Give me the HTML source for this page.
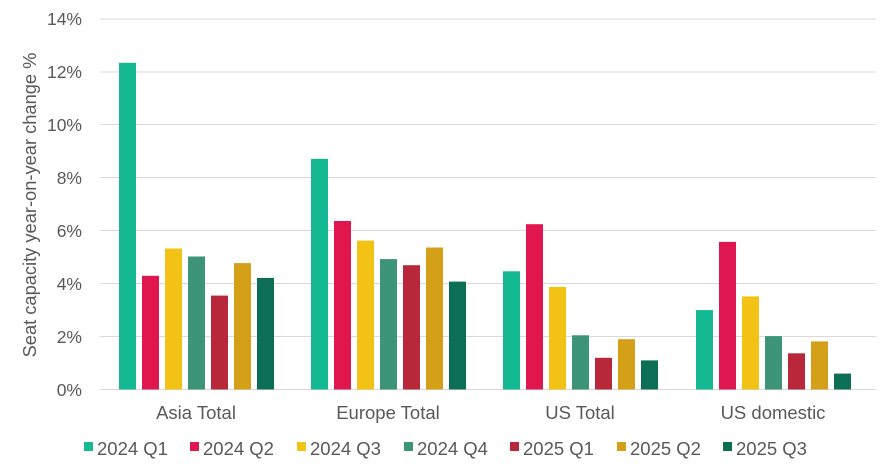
<!DOCTYPE html>
<html><head><meta charset="utf-8"><style>
html,body{margin:0;padding:0;background:#fff}
svg{display:block;font-family:"Liberation Sans",Arial,sans-serif}
</style></head><body>
<svg width="886" height="472" viewBox="0 0 886 472" xmlns="http://www.w3.org/2000/svg">
<g stroke="#d9d9d9" stroke-width="1">
<line x1="100" x2="876" y1="19" y2="19"/><line x1="100" x2="876" y1="72" y2="72"/>
<line x1="100" x2="876" y1="124.5" y2="124.5"/><line x1="100" x2="876" y1="177.5" y2="177.5"/>
<line x1="100" x2="876" y1="230.5" y2="230.5"/><line x1="100" x2="876" y1="283.5" y2="283.5"/>
<line x1="100" x2="876" y1="336.5" y2="336.5"/><line x1="100" x2="876" y1="389.5" y2="389.5"/>
</g>
<g fill="#595959" font-size="17.5" text-anchor="end">
<text x="82" y="25">14%</text><text x="82" y="78">12%</text><text x="82" y="131">10%</text>
<text x="82" y="184">8%</text><text x="82" y="237">6%</text><text x="82" y="290">4%</text>
<text x="82" y="343">2%</text><text x="82" y="396">0%</text>
</g>
<text transform="translate(36,205) rotate(-90)" text-anchor="middle" fill="#595959" font-size="18.3">Seat capacity year-on-year change %</text>
<g>
<rect x="119" y="62.8" width="17" height="326.7" fill="#14b994"/>
<rect x="142" y="275.8" width="17" height="113.7" fill="#e0174f"/>
<rect x="165" y="248.5" width="17" height="141" fill="#f2c314"/>
<rect x="188" y="256.5" width="17" height="133" fill="#3d9478"/>
<rect x="211" y="295.6" width="17" height="93.9" fill="#b8283a"/>
<rect x="234" y="263.1" width="17" height="126.4" fill="#d4a017"/>
<rect x="257" y="277.9" width="17" height="111.6" fill="#0b6e55"/>

<rect x="311" y="158.9" width="17" height="230.6" fill="#14b994"/>
<rect x="334" y="221" width="17" height="168.5" fill="#e0174f"/>
<rect x="357" y="240.6" width="17" height="148.9" fill="#f2c314"/>
<rect x="380" y="259.1" width="17" height="130.4" fill="#3d9478"/>
<rect x="403" y="265.2" width="17" height="124.3" fill="#b8283a"/>
<rect x="426" y="247.5" width="17" height="142" fill="#d4a017"/>
<rect x="449" y="281.6" width="17" height="107.9" fill="#0b6e55"/>

<rect x="503" y="271.3" width="17" height="118.2" fill="#14b994"/>
<rect x="526" y="224.2" width="17" height="165.3" fill="#e0174f"/>
<rect x="549" y="286.9" width="17" height="102.6" fill="#f2c314"/>
<rect x="572" y="335.3" width="17" height="54.2" fill="#3d9478"/>
<rect x="595" y="357.8" width="17" height="31.7" fill="#b8283a"/>
<rect x="618" y="339.2" width="17" height="50.3" fill="#d4a017"/>
<rect x="641" y="360.4" width="17" height="29.1" fill="#0b6e55"/>

<rect x="696" y="310.1" width="17" height="79.4" fill="#14b994"/>
<rect x="719" y="241.9" width="17" height="147.6" fill="#e0174f"/>
<rect x="742" y="296.4" width="17" height="93.1" fill="#f2c314"/>
<rect x="765" y="336.1" width="17" height="53.4" fill="#3d9478"/>
<rect x="788" y="353.3" width="17" height="36.2" fill="#b8283a"/>
<rect x="811" y="341.4" width="17" height="48.1" fill="#d4a017"/>
<rect x="834" y="373.6" width="17" height="15.9" fill="#0b6e55"/>
</g>
<g fill="#595959" font-size="18.5" text-anchor="middle">
<text x="196" y="419">Asia Total</text><text x="388" y="419">Europe Total</text>
<text x="580" y="419">US Total</text><text x="773" y="419">US domestic</text>
</g>
<g font-size="18.5" fill="#595959">
<rect x="84" y="442" width="9" height="9" fill="#14b994"/><text x="97" y="455">2024 Q1</text>
<rect x="190" y="442" width="9" height="9" fill="#e0174f"/><text x="203" y="455">2024 Q2</text>
<rect x="297" y="442" width="9" height="9" fill="#f2c314"/><text x="310" y="455">2024 Q3</text>
<rect x="404" y="442" width="9" height="9" fill="#3d9478"/><text x="417" y="455">2024 Q4</text>
<rect x="510" y="442" width="9" height="9" fill="#b8283a"/><text x="523" y="455">2025 Q1</text>
<rect x="617" y="442" width="9" height="9" fill="#d4a017"/><text x="630" y="455">2025 Q2</text>
<rect x="723" y="442" width="9" height="9" fill="#0b6e55"/><text x="736" y="455">2025 Q3</text>
</g>
</svg>
</body></html>
